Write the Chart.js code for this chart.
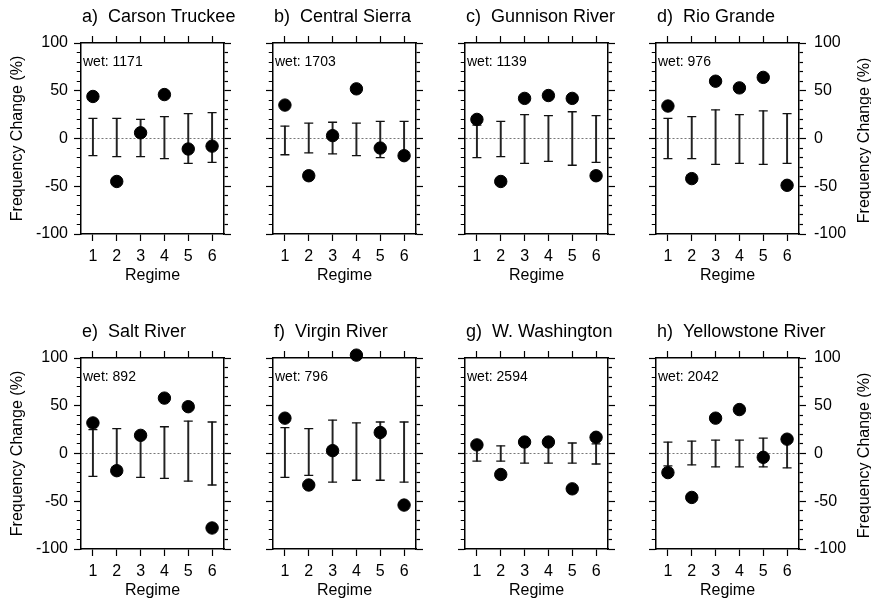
<!DOCTYPE html>
<html><head><meta charset="utf-8">
<script src="https://cdn.jsdelivr.net/npm/chart.js@4/dist/chart.umd.min.js"></script>
<style>
html,body{margin:0;padding:0;background:#fff;}
#wrap{position:relative;width:871px;height:601px;overflow:hidden;background:#fff;}
#wrap canvas{position:absolute;}
</style></head><body><div id="wrap"></div>
<script>
// ---- data ----
const categories = ['1','2','3','4','5','6'];
const yMajorTicks = [-100, -50, 0, 50, 100];
const panelTitles = ['a)  Carson Truckee','b)  Central Sierra','c)  Gunnison River','d)  Rio Grande',
                     'e)  Salt River','f)  Virgin River','g)  W. Washington','h)  Yellowstone River'];
const wetCounts = [1171, 1703, 1139, 976, 892, 796, 2594, 2042];

const changeCarson = [44, -45, 6, 46, -11, -8];
const lowCarson    = [-18, -19, -19, -21, -26, -25];
const highCarson   = [21, 21, 20, 23, 26, 27];

const changeSierra = [35, -39, 3, 52, -10, -18];
const lowSierra    = [-17, -15, -16, -18, -20, -16];
const highSierra   = [13, 16, 17, 16, 18, 18];

const changeGunnison = [20, -45, 42, 45, 42, -39];
const lowGunnison    = [-20, -19, -26, -24, -28, -25];
const highGunnison   = [14, 18, 25, 24, 28, 24];

const changeRio = [34, -42, 60, 53, 64, -49];
const lowRio    = [-21, -21, -27, -26, -27, -26];
const highRio   = [21, 23, 30, 25, 29, 26];

const changeSalt = [32, -18, 19, 58, 49, -78];
const lowSalt    = [-24, -22, -25, -26, -29, -33];
const highSalt   = [25, 26, 21, 28, 34, 33];

const changeVirgin = [37, -33, 3, 103, 22, -54];
const lowVirgin    = [-25, -23, -30, -28, -28, -30];
const highVirgin   = [27, 26, 35, 32, 33, 33];

const changeWash = [9, -22, 12, 12, -37, 17];
const lowWash    = [-8, -8, -10, -10, -10, -11];
const highWash   = [9, 8, 10, 10, 11, 10];

const changeYellow = [-20, -46, 37, 46, -4, 15];
const lowYellow    = [-13, -12, -14, -14, -14, -15];
const highYellow   = [12, 13, 14, 14, 16, 15];

const panelChange = [changeCarson, changeSierra, changeGunnison, changeRio, changeSalt, changeVirgin, changeWash, changeYellow];
const panelLow    = [lowCarson, lowSierra, lowGunnison, lowRio, lowSalt, lowVirgin, lowWash, lowYellow];
const panelHigh   = [highCarson, highSierra, highGunnison, highRio, highSalt, highVirgin, highWash, highYellow];

// ---- layout ----
const FONT = '"Liberation Sans", Arial, Helvetica, sans-serif';
Chart.defaults.font.family = FONT;
Chart.defaults.color = '#000';
const ML = 80, MR = 72, MT = 43, MB = 52, PW = 143, PH = 191;
const plotLefts = [81, 273, 465, 656];
const plotTops = [43, 358];
const yTitle = 'Frequency Change (%)';

const textPlugin = {
  id: 'panelText',
  afterDraw(chart, args, opts) {
    const {ctx, chartArea} = chart;
    ctx.save();
    ctx.fillStyle = '#000';
    ctx.textBaseline = 'middle';
    ctx.textAlign = 'left';
    ctx.font = '18px ' + FONT;
    ctx.fillText(opts.title, chartArea.left + 1, chartArea.top - 26);
    ctx.font = '14px ' + FONT;
    ctx.fillText('wet: ' + opts.wet, chartArea.left + 2, chartArea.top + 19);
    if (opts.rightTitle) {
      ctx.translate(chart.width - 6, (chartArea.top + chartArea.bottom) / 2 + 2);
      ctx.rotate(-Math.PI / 2);
      ctx.textAlign = 'center';
      ctx.font = '16px ' + FONT;
      ctx.fillText(opts.rightTitle, 0, 0);
    }
    ctx.restore();
  }
};

const wrap = document.getElementById('wrap');
const isMinor = c => c.tick && yMajorTicks.indexOf(c.tick.value) < 0;

for (let i = 0; i < 8; i++) {
  const col = i % 4, row = Math.floor(i / 4);
  const canvas = document.createElement('canvas');
  const W = ML + PW + MR, H = MT + PH + MB;
  canvas.width = W; canvas.height = H;
  canvas.style.width = W + 'px'; canvas.style.height = H + 'px';
  canvas.style.left = (plotLefts[col] - ML) + 'px';
  canvas.style.top = (plotTops[row] - MT) + 'px';
  wrap.appendChild(canvas);

  const low = panelLow[i], high = panelHigh[i];
  const border = {display: true, color: '#000', width: 1.5};

  new Chart(canvas, {
    type: 'bar',
    data: {
      labels: categories,
      datasets: [
        {type: 'line', data: panelChange[i], showLine: false, pointRadius: 6.2, pointBorderWidth: 1,
         pointBackgroundColor: '#000', pointBorderColor: '#000', clip: false, order: 0},
        {type: 'line', data: high, showLine: false, pointStyle: 'line', pointRadius: 4.5,
         pointBorderWidth: 1.3, pointBorderColor: '#111', order: 1},
        {type: 'line', data: low, showLine: false, pointStyle: 'line', pointRadius: 4.5,
         pointBorderWidth: 1.3, pointBorderColor: '#111', order: 1},
        {type: 'bar', data: low.map((l, k) => [l, high[k]]), backgroundColor: '#222',
         borderWidth: 0, barThickness: 1.3, order: 2}
      ]
    },
    options: {
      responsive: false, animation: false, events: [],
      layout: {padding: 0},
      plugins: {
        legend: {display: false}, tooltip: {enabled: false},
        panelText: {title: panelTitles[i], wet: wetCounts[i], rightTitle: col === 3 ? yTitle : null}
      },
      scales: {
        x: {
          type: 'category', position: 'bottom', offset: true,
          grid: {offset: false, drawOnChartArea: false, tickLength: 7, tickColor: '#000', tickWidth: 1.2},
          border: border,
          ticks: {color: '#000', font: {size: 16}, padding: 6, autoSkip: false, maxRotation: 0},
          title: {display: true, text: 'Regime', color: '#000', font: {size: 16}, padding: {top: 0, bottom: 1}},
          afterFit: s => { s.height = MB; }
        },
        x2: {
          type: 'category', position: 'top', offset: true,
          grid: {offset: false, drawOnChartArea: false, tickLength: 7, tickColor: '#000', tickWidth: 1.2},
          border: border,
          ticks: {display: false, autoSkip: false},
          afterFit: s => { s.height = MT; }
        },
        y: {
          type: 'linear', position: 'left', min: -100, max: 100,
          ticks: {stepSize: 10, autoSkip: false, display: col === 0, color: '#000', font: {size: 16}, padding: 6,
                  callback: v => yMajorTicks.indexOf(v) >= 0 ? String(v) : ''},
          grid: {
            color: c => (c.tick && c.tick.value === 0) ? '#777' : 'rgba(0,0,0,0)',
            lineWidth: 1, tickLength: 7, tickColor: '#000', tickWidth: 1.2,
            tickBorderDash: c => isMinor(c) ? [0, 2.75, 3.5, 100] : []
          },
          border: {display: true, color: '#000', width: 1.5, dash: [2, 2]},
          title: {display: col === 0, text: yTitle, color: '#000', font: {size: 16}, padding: {top: 7, bottom: 0}},
          afterFit: s => { s.width = ML; }
        },
        y2: {
          type: 'linear', position: 'right', min: -100, max: 100,
          ticks: {stepSize: 10, autoSkip: false, display: col === 3, color: '#000', font: {size: 16}, padding: 8,
                  callback: v => yMajorTicks.indexOf(v) >= 0 ? String(v) : ''},
          grid: {
            drawOnChartArea: false, tickLength: 7, tickColor: '#000', tickWidth: 1.2,
            tickBorderDash: c => isMinor(c) ? [3.5, 100] : []
          },
          border: border,
          afterFit: s => { s.width = MR; }
        }
      }
    },
    plugins: [textPlugin]
  });
}
</script></body></html>
